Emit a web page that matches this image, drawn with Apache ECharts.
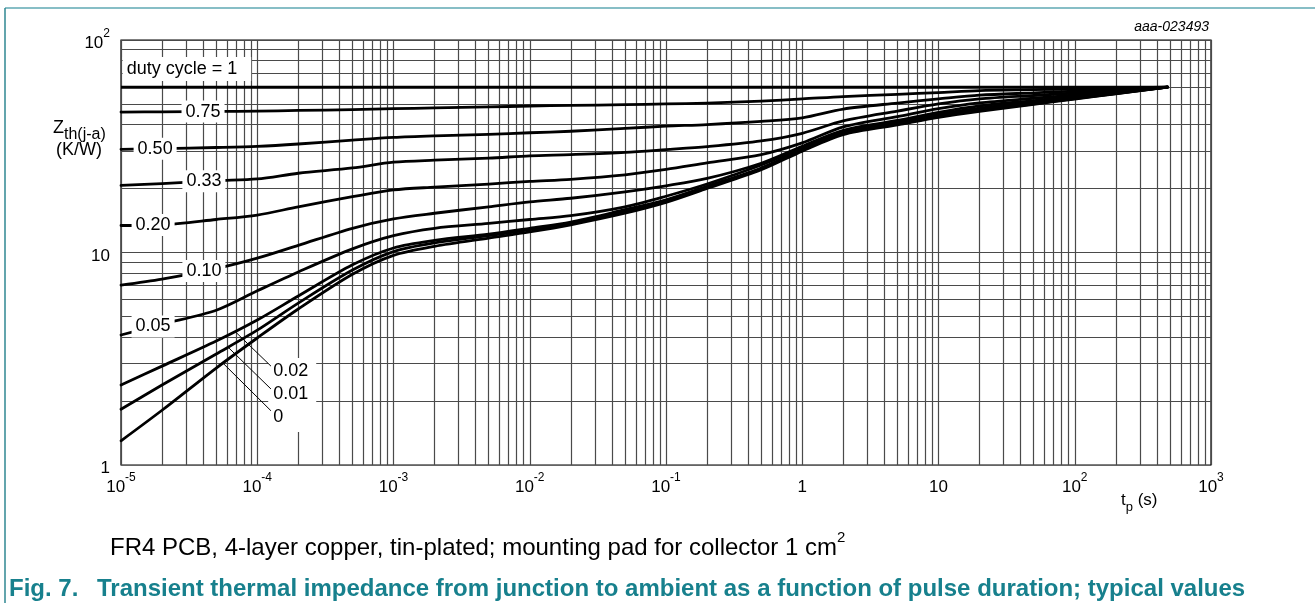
<!DOCTYPE html>
<html>
<head>
<meta charset="utf-8">
<script src="https://cdn.jsdelivr.net/npm/echarts@6/dist/echarts.min.js"></script>
<style>
  html, body { margin: 0; padding: 0; background: #fff; }
  #chart { width: 1315px; height: 603px; }
</style>
</head>
<body>
<div id="chart"></div>
<script>
// Pulse durations t_p (s) at which each curve is sampled
const durations = [1e-5, 2e-5, 5e-5, 1e-4, 2e-4, 5e-4, 1e-3, 2e-3, 5e-3, 1e-2, 2e-2, 5e-2,
                   0.1, 0.2, 0.5, 1, 2, 5, 10, 20, 50, 100, 200, 480];

// Zth(j-a) in K/W for each duty cycle
const duty100 = [60, 60];
const duty100T = [1e-5, 480];
const duty075 = [45.8, 45.9, 46.1, 46.3, 46.6, 47.0, 47.5, 47.9, 48.4, 48.9, 49.2, 49.6, 50.0, 50.5, 51.6, 52.8, 54.2, 55.5, 56.6, 57.8, 58.4, 58.9, 59.4, 60];
const duty050 = [30.6, 30.8, 31.2, 31.6, 32.4, 33.8, 34.8, 35.4, 36.0, 36.6, 37.2, 38.4, 39.3, 40.0, 41.4, 43.0, 47.3, 50.5, 52.8, 55.0, 56.4, 57.5, 58.6, 60];
const duty033 = [20.7, 21.1, 21.8, 22.2, 23.6, 25.0, 26.6, 27.2, 27.8, 28.5, 28.9, 29.6, 30.5, 31.5, 33.5, 36.4, 41.6, 46.3, 50.0, 52.8, 54.8, 56.3, 57.9, 60];
const duty020 = [13.4, 13.5, 14.3, 15.0, 16.4, 18.3, 19.7, 20.3, 21.0, 21.6, 22.1, 23.2, 24.6, 26.4, 28.9, 32.8, 39.0, 43.6, 47.5, 50.6, 53.2, 55.2, 57.3, 60];
const duty010 = [7.03, 7.5, 8.4, 9.4, 10.8, 13.0, 14.4, 15.3, 16.4, 17.3, 18.0, 19.3, 20.6, 22.3, 26.3, 31.6, 37.6, 41.8, 45.7, 49.0, 51.9, 54.3, 56.7, 60];
const duty005 = [4.09, 4.6, 5.35, 6.6, 8.1, 10.4, 12.0, 13.0, 13.7, 14.3, 14.9, 16.4, 18.4, 21.0, 25.8, 31.0, 37.0, 41.0, 44.8, 47.8, 51.0, 53.6, 56.4, 60];
const duty002 = [2.38, 2.92, 3.83, 4.81, 6.24, 8.75, 10.5, 11.4, 12.2, 13.0, 13.9, 15.9, 17.7, 20.5, 25.0, 30.5, 36.4, 40.5, 43.9, 47.0, 50.4, 53.2, 56.1, 60];
const duty001 = [1.83, 2.38, 3.33, 4.31, 5.78, 8.27, 10.1, 11.1, 12.0, 12.8, 13.7, 15.6, 17.5, 20.2, 24.8, 30.3, 36.2, 40.2, 43.6, 46.6, 50.1, 53.0, 56.0, 60];
const duty000 = [1.30, 1.81, 2.86, 3.96, 5.42, 7.9, 9.7, 10.7, 11.7, 12.5, 13.5, 15.3, 17.2, 20.0, 24.5, 30.0, 35.9, 39.9, 43.3, 46.2, 49.8, 52.7, 55.8, 60];

const curveNames = ['0.75', '0.50', '0.33', '0.20', '0.10', '0.05', '0.02', '0.01', '0'];
const curveValues = [duty075, duty050, duty033, duty020, duty010, duty005, duty002, duty001, duty000];

// Axis decades (exponents) and log-grid mantissas
const xExponents = [-5, -4, -3, -2, -1, 0, 1, 2, 3];
const yExponents = [0, 1, 2];
const mantissas = [1, 2, 3, 4, 5, 6, 7, 8, 9];

const FONT = '"Liberation Sans", Arial, sans-serif';
const INK = '#000';
const GRID_INK = '#4a4a4a';
const TEAL = '#17808d';

const X_MIN = Math.pow(10, xExponents[0]), X_MAX = Math.pow(10, xExponents[xExponents.length - 1]);
const Y_MIN = Math.pow(10, yExponents[0]), Y_MAX = Math.pow(10, yExponents[yExponents.length - 1]);

function tickLabel(v) {
  const e = Math.round(Math.log10(v));
  if (e === 0) return '{b|1}';
  if (e === 1) return '{b|10}';
  return '{b|10}{s|' + e + '}';
}

const labelRich = {
  b: { fontSize: 17, fontFamily: FONT, color: INK, lineHeight: 24, verticalAlign: 'bottom' },
  s: { fontSize: 12, fontFamily: FONT, color: INK, lineHeight: 12, verticalAlign: 'top' }
};

// log-grid lines, each drawn as a segment spanning the plot in data units
function decadeValues(exps) {
  const out = [];
  exps.forEach(function (e, i) {
    if (i === exps.length - 1) { out.push(Math.pow(10, e)); return; }
    mantissas.forEach(function (m) { out.push(m * Math.pow(10, e)); });
  });
  return out;
}
const gridSegments = [];
decadeValues(xExponents).forEach(function (v) { gridSegments.push({ coords: [[v, Y_MIN], [v, Y_MAX]] }); });
decadeValues(yExponents).forEach(function (v) { gridSegments.push({ coords: [[X_MIN, v], [X_MAX, v]] }); });

const series = [{
  name: 'grid',
  type: 'lines',
  coordinateSystem: 'cartesian2d',
  polyline: false,
  silent: true,
  z: 1,
  lineStyle: { color: GRID_INK, width: 1.2, opacity: 1 },
  data: gridSegments
}, {
  name: '1',
  type: 'line',
  data: duty100T.map(function (t, i) { return [t, duty100[i]]; }),
  symbol: 'none',
  lineStyle: { color: INK, width: 3 },
  z: 3
}];
curveNames.forEach(function (name, k) {
  series.push({
    name: name,
    type: 'line',
    data: durations.map(function (t, i) { return [t, curveValues[k][i]]; }),
    symbol: 'none',
    smooth: 0.3,
    lineStyle: { color: INK, width: 2.8, cap: 'round', join: 'round' },
    z: 3
  });
});

const chart = echarts.init(document.getElementById('chart'), null, { renderer: 'canvas' });
chart.setOption({
  animation: false,
  backgroundColor: '#fff',
  grid: { left: 121, right: 104, top: 40, bottom: 138, show: true, borderColor: INK, borderWidth: 1.2, backgroundColor: 'transparent' },
  xAxis: {
    type: 'log', logBase: 10, min: X_MIN, max: X_MAX, splitNumber: 8,
    axisLine: { show: false }, axisTick: { show: false }, splitLine: { show: false },
    axisLabel: { margin: 7, formatter: tickLabel, rich: labelRich, showMinLabel: true, showMaxLabel: true }
  },
  yAxis: {
    type: 'log', logBase: 10, min: Y_MIN, max: Y_MAX, splitNumber: 2,
    axisLine: { show: false }, axisTick: { show: false }, splitLine: { show: false },
    axisLabel: { margin: 11, formatter: tickLabel, rich: labelRich, showMinLabel: true, showMaxLabel: true }
  },
  series: series
});

function interpLog(ts, zs, t) {
  const lt = Math.log10(t);
  for (let i = 0; i < ts.length - 1; i++) {
    const a = Math.log10(ts[i]), b = Math.log10(ts[i + 1]);
    if (lt >= a && lt <= b) {
      const f = (lt - a) / (b - a);
      return Math.pow(10, Math.log10(zs[i]) + f * (Math.log10(zs[i + 1]) - Math.log10(zs[i])));
    }
  }
  return zs[zs.length - 1];
}
function px(t, z) { return chart.convertToPixel({ gridIndex: 0 }, [t, z]); }
function curveOf(name) { return curveValues[curveNames.indexOf(name)]; }

// Inline duty-cycle labels sitting on their curves
const inlineLabels = [
  { name: '0.75', t: 4.0e-5 },
  { name: '0.50', t: 1.78e-5 },
  { name: '0.33', t: 4.06e-5 },
  { name: '0.20', t: 1.72e-5 },
  { name: '0.10', t: 4.06e-5 },
  { name: '0.05', t: 1.72e-5 }
];
// Labels with leader lines for the lowest curves
const leaderLabels = [
  { name: '0.02', from: 6.87e-5, to: [1.26e-4, 2.92], at: [1.31e-4, 2.77] },
  { name: '0.01', from: 6.1e-5, to: [1.26e-4, 2.28], at: [1.31e-4, 2.16] },
  { name: '0', from: 5.6e-5, to: [1.26e-4, 1.80], at: [1.31e-4, 1.68] }
];

const graphics = [];
const txt = function (x, y, opts) {
  return Object.assign({ type: 'text', x: x, y: y, z: 50, silent: true }, opts);
};

// duty cycle = 1 label
const pD = px(1.1e-5, 73);
graphics.push(txt(pD[0] - 4, pD[1], {
  style: { text: 'duty cycle = 1', font: '18px ' + FONT, fill: INK, align: 'left', verticalAlign: 'middle',
           backgroundColor: '#fff', padding: [3, 14, 3, 4] }
}));

inlineLabels.forEach(function (l) {
  const p = px(l.t, interpLog(durations, curveOf(l.name), l.t));
  graphics.push(txt(p[0], p[1], {
    style: { text: l.name, font: '18px ' + FONT, fill: INK, align: 'center', verticalAlign: 'middle',
             backgroundColor: '#fff', padding: [2, 4, 2, 4] }
  }));
});

// white block behind the leader labels
const pTop = px(leaderLabels[0].at[0], leaderLabels[0].at[1]);
const pBot = px(leaderLabels[2].at[0], leaderLabels[2].at[1]);
graphics.push({ type: 'rect', z: 49, silent: true,
  shape: { x: pTop[0] - 5, y: pTop[1] - 13, width: 48, height: pBot[1] - pTop[1] + 28 },
  style: { fill: '#fff' } });
leaderLabels.forEach(function (l) {
  const a = px(l.from, interpLog(durations, curveOf(l.name), l.from));
  const b = px(l.to[0], l.to[1]);
  graphics.push({ type: 'line', z: 50, silent: true,
    shape: { x1: a[0], y1: a[1], x2: b[0], y2: b[1] },
    style: { stroke: INK, lineWidth: 1 } });
  const p = px(l.at[0], l.at[1]);
  graphics.push(txt(p[0], p[1], {
    style: { text: l.name, font: '18px ' + FONT, fill: INK, align: 'left', verticalAlign: 'middle' }
  }));
});

// axis titles
graphics.push(txt(53, 131, {
  style: { text: '{z|Z}{sub|th(j-a)}', align: 'left', verticalAlign: 'middle',
    rich: { z: { font: '18px ' + FONT, fill: INK, lineHeight: 24, verticalAlign: 'top' },
            sub: { font: '16px ' + FONT, fill: INK, lineHeight: 16, verticalAlign: 'bottom' } } }
}));
graphics.push(txt(79, 150, {
  style: { text: '(K/W)', font: '18px ' + FONT, fill: INK, align: 'center', verticalAlign: 'middle' }
}));
graphics.push(txt(1121, 503, {
  style: { text: '{a|t}{sub|p}{a| (s)}', align: 'left', verticalAlign: 'middle',
    rich: { a: { font: '17px ' + FONT, fill: INK, lineHeight: 22, verticalAlign: 'top' },
            sub: { font: '13px ' + FONT, fill: INK, lineHeight: 13, verticalAlign: 'bottom' } } }
}));
graphics.push(txt(1209, 27, {
  style: { text: 'aaa-023493', font: 'italic 14px ' + FONT, fill: INK, align: 'right', verticalAlign: 'middle' }
}));

// figure frame, note and caption
graphics.push({ type: 'line', z: 60, silent: true, shape: { x1: 5, y1: 8, x2: 1315, y2: 8 },
  style: { stroke: '#5fa9b3', lineWidth: 1.5 } });
graphics.push({ type: 'line', z: 60, silent: true, shape: { x1: 5, y1: 8, x2: 5, y2: 603 },
  style: { stroke: '#2f8792', lineWidth: 1.5 } });
graphics.push(txt(110, 545, {
  style: { text: '{n|FR4 PCB, 4-layer copper, tin-plated; mounting pad for collector 1 cm}{s|2}',
    align: 'left', verticalAlign: 'middle',
    rich: { n: { font: '24px ' + FONT, fill: INK, lineHeight: 30, verticalAlign: 'bottom' },
            s: { font: '15px ' + FONT, fill: INK, lineHeight: 15, verticalAlign: 'top' } } }
}));
graphics.push(txt(9, 589, {
  style: { text: 'Fig. 7.', font: 'bold 24px ' + FONT, fill: TEAL, align: 'left', verticalAlign: 'middle' }
}));
graphics.push(txt(97, 589, {
  style: { text: 'Transient thermal impedance from junction to ambient as a function of pulse duration; typical values',
    font: 'bold 24px ' + FONT, fill: TEAL, align: 'left', verticalAlign: 'middle' }
}));

chart.setOption({ graphic: graphics });
</script>
</body>
</html>
